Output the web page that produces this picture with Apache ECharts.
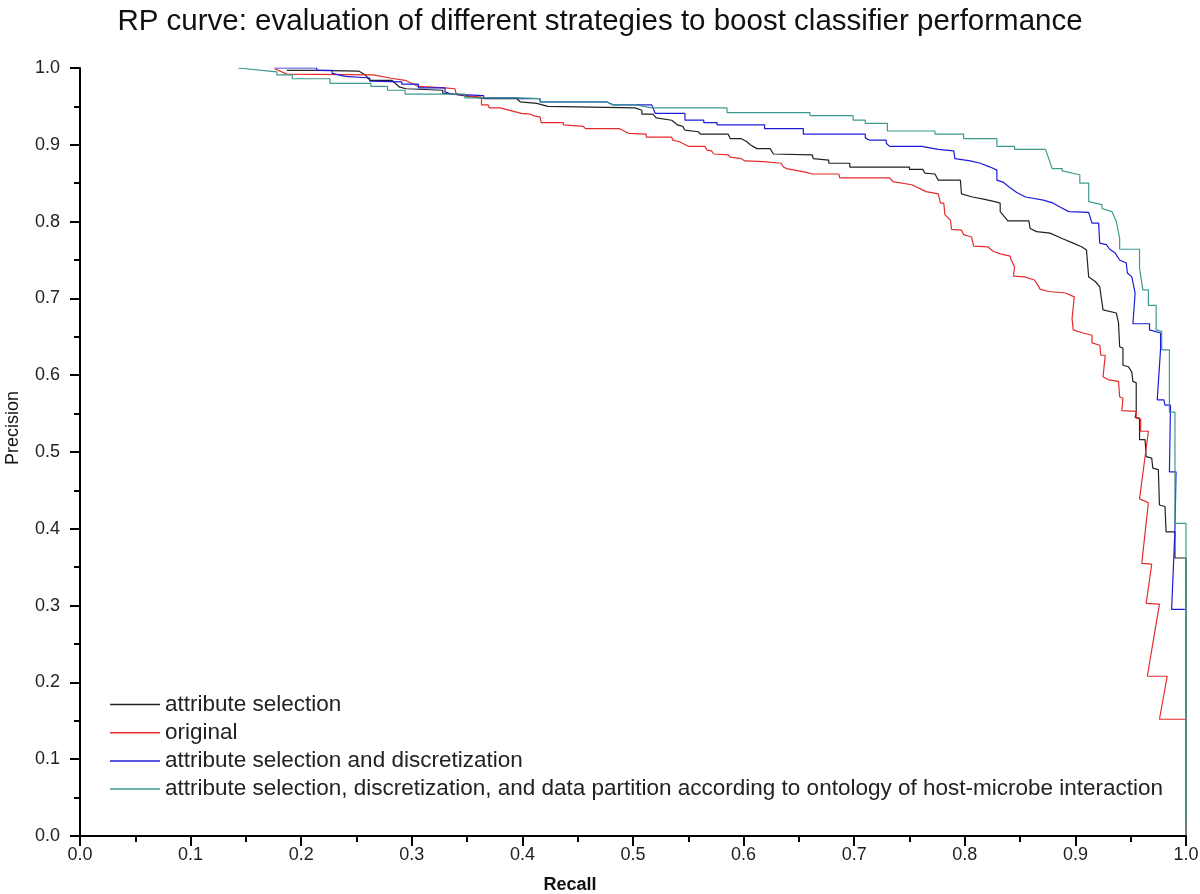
<!DOCTYPE html>
<html>
<head>
<meta charset="utf-8">
<script src="https://cdn.jsdelivr.net/npm/echarts@6/dist/echarts.min.js"></script>
<style>
  html, body { margin: 0; padding: 0; background: #fff; }
  #chart { width: 1200px; height: 894px; }
</style>
</head>
<body>
<div id="chart"></div>
<script>
// ---- Data (recall, precision) ----
const seriesNames = [
  'attribute selection',
  'original',
  'attribute selection and discretization',
  'attribute selection, discretization, and data partition according to ontology of host-microbe interaction'
];

const attrSelection = [
  [0.187,0.997],[0.214,0.997],[0.214,0.996],[0.252,0.996],[0.258,0.991],[0.262,0.984],[0.282,0.984],[0.289,0.975],
  [0.295,0.973],[0.328,0.971],[0.328,0.967],[0.333,0.967],[0.366,0.960],[0.395,0.960],[0.398,0.956],[0.413,0.954],
  [0.423,0.950],[0.423,0.948],[0.502,0.948],[0.508,0.945],[0.508,0.940],[0.518,0.940],[0.521,0.935],[0.535,0.932],
  [0.540,0.926],[0.545,0.924],[0.547,0.919],[0.559,0.917],[0.561,0.914],[0.586,0.914],[0.588,0.908],[0.598,0.908],
  [0.603,0.904],[0.606,0.900],[0.612,0.895],[0.624,0.895],[0.627,0.888],[0.662,0.887],[0.663,0.882],[0.677,0.880],
  [0.677,0.876],[0.696,0.876],[0.696,0.871],[0.750,0.871],[0.750,0.868],[0.762,0.868],[0.764,0.863],[0.773,0.862],
  [0.776,0.854],[0.796,0.854],[0.797,0.836],[0.807,0.832],[0.818,0.829],[0.827,0.826],[0.832,0.824],[0.832,0.813],
  [0.839,0.801],[0.858,0.801],[0.859,0.791],[0.865,0.787],[0.877,0.785],[0.888,0.778],[0.898,0.772],[0.906,0.767],
  [0.910,0.763],[0.912,0.728],[0.918,0.722],[0.922,0.715],[0.925,0.685],[0.937,0.681],[0.939,0.668],[0.940,0.637],
  [0.943,0.635],[0.943,0.613],[0.948,0.611],[0.951,0.604],[0.952,0.592],[0.955,0.590],[0.955,0.552],[0.954,0.545],
  [0.958,0.544],[0.958,0.516],[0.963,0.516],[0.964,0.494],[0.969,0.492],[0.970,0.479],[0.975,0.477],[0.976,0.431],
  [0.981,0.429],[0.982,0.396],[0.990,0.396],[0.990,0.362],[1.0,0.362],[1.0,0.0]
];

const original = [
  [0.176,0.999],[0.187,0.992],[0.265,0.991],[0.280,0.987],[0.294,0.984],[0.306,0.976],[0.330,0.974],[0.339,0.973],
  [0.340,0.967],[0.348,0.964],[0.363,0.962],[0.363,0.952],[0.369,0.952],[0.370,0.948],[0.380,0.948],[0.399,0.941],
  [0.407,0.940],[0.410,0.938],[0.416,0.936],[0.417,0.929],[0.437,0.929],[0.437,0.926],[0.455,0.924],[0.457,0.921],
  [0.488,0.921],[0.496,0.915],[0.512,0.914],[0.512,0.910],[0.535,0.910],[0.536,0.906],[0.542,0.904],[0.550,0.898],
  [0.565,0.898],[0.567,0.893],[0.571,0.892],[0.573,0.888],[0.586,0.887],[0.588,0.884],[0.598,0.882],[0.601,0.879],
  [0.618,0.878],[0.618,0.876],[0.634,0.876],[0.636,0.871],[0.639,0.869],[0.657,0.864],[0.662,0.862],[0.686,0.862],
  [0.687,0.857],[0.732,0.857],[0.735,0.852],[0.752,0.848],[0.765,0.839],[0.776,0.836],[0.778,0.824],[0.781,0.824],
  [0.782,0.809],[0.787,0.802],[0.788,0.790],[0.797,0.789],[0.799,0.783],[0.806,0.780],[0.808,0.768],[0.821,0.767],
  [0.826,0.761],[0.832,0.758],[0.841,0.755],[0.842,0.750],[0.845,0.741],[0.844,0.729],[0.854,0.728],[0.863,0.724],
  [0.867,0.715],[0.868,0.712],[0.876,0.709],[0.891,0.707],[0.899,0.702],[0.897,0.674],[0.898,0.659],[0.907,0.655],
  [0.915,0.652],[0.915,0.642],[0.922,0.639],[0.923,0.626],[0.927,0.626],[0.925,0.598],[0.930,0.594],[0.939,0.592],
  [0.940,0.572],[0.943,0.570],[0.942,0.554],[0.955,0.553],[0.955,0.544],[0.959,0.543],[0.959,0.527],[0.966,0.527],
  [0.965,0.516],[0.958,0.439],[0.966,0.434],[0.960,0.355],[0.969,0.354],[0.964,0.303],[0.976,0.302],[0.965,0.208],
  [0.983,0.208],[0.976,0.152],[1.0,0.152]
];

const attrSelDiscretization = [
  [0.176,1.0],[0.214,1.0],[0.214,0.997],[0.228,0.997],[0.228,0.993],[0.240,0.989],[0.262,0.987],[0.262,0.983],
  [0.291,0.982],[0.291,0.979],[0.306,0.979],[0.306,0.974],[0.330,0.974],[0.330,0.969],[0.335,0.966],[0.365,0.964],
  [0.365,0.961],[0.395,0.961],[0.398,0.960],[0.416,0.960],[0.416,0.956],[0.476,0.956],[0.482,0.952],[0.517,0.952],
  [0.520,0.941],[0.547,0.941],[0.547,0.932],[0.564,0.932],[0.564,0.929],[0.576,0.929],[0.576,0.926],[0.619,0.926],
  [0.619,0.921],[0.654,0.921],[0.654,0.914],[0.710,0.914],[0.710,0.909],[0.714,0.906],[0.729,0.906],[0.729,0.902],
  [0.732,0.898],[0.761,0.898],[0.776,0.894],[0.790,0.892],[0.791,0.882],[0.805,0.879],[0.814,0.876],[0.823,0.871],
  [0.829,0.867],[0.829,0.854],[0.835,0.851],[0.841,0.844],[0.847,0.838],[0.855,0.832],[0.871,0.828],[0.880,0.824],
  [0.886,0.819],[0.894,0.813],[0.912,0.812],[0.915,0.798],[0.921,0.798],[0.922,0.772],[0.928,0.770],[0.931,0.764],
  [0.936,0.759],[0.940,0.750],[0.946,0.746],[0.947,0.733],[0.951,0.728],[0.954,0.707],[0.952,0.667],[0.967,0.667],
  [0.967,0.659],[0.977,0.655],[0.977,0.634],[0.974,0.568],[0.980,0.568],[0.981,0.561],[0.986,0.561],[0.985,0.474],
  [0.991,0.474],[0.990,0.398],[0.987,0.295],[0.999,0.295]
];

const attrSelDiscPartition = [
  [0.143,1.0],[0.178,0.995],[0.178,0.991],[0.192,0.991],[0.192,0.986],[0.226,0.986],[0.226,0.980],[0.263,0.980],
  [0.263,0.976],[0.278,0.976],[0.278,0.971],[0.294,0.971],[0.294,0.966],[0.348,0.966],[0.348,0.961],[0.398,0.961],
  [0.416,0.960],[0.416,0.956],[0.476,0.956],[0.482,0.952],[0.502,0.952],[0.517,0.948],[0.585,0.948],[0.585,0.942],
  [0.660,0.942],[0.660,0.938],[0.699,0.938],[0.699,0.932],[0.710,0.932],[0.710,0.928],[0.730,0.928],[0.730,0.918],
  [0.773,0.918],[0.773,0.914],[0.799,0.914],[0.799,0.908],[0.829,0.908],[0.829,0.898],[0.845,0.898],[0.845,0.894],
  [0.873,0.894],[0.879,0.869],[0.888,0.869],[0.888,0.866],[0.904,0.861],[0.904,0.850],[0.912,0.850],[0.912,0.826],
  [0.924,0.822],[0.924,0.817],[0.933,0.813],[0.937,0.800],[0.940,0.778],[0.940,0.764],[0.958,0.764],[0.958,0.739],
  [0.961,0.711],[0.966,0.711],[0.966,0.691],[0.973,0.691],[0.973,0.659],[0.978,0.657],[0.978,0.633],[0.985,0.633],
  [0.985,0.552],[0.990,0.552],[0.990,0.407],[1.0,0.407],[1.0,0.017]
];

const seriesData = [attrSelection, original, attrSelDiscretization, attrSelDiscPartition];
const seriesColors = ['#222222', '#e52b2b', '#1c1cd8', '#3d9a8e'];

const FONT = '"Liberation Sans", Arial, sans-serif';

const chart = echarts.init(document.getElementById('chart'), null, { renderer: 'canvas' });

const axisCommon = {
  type: 'value',
  min: 0,
  max: 1,
  interval: 0.1,
  axisLine: { show: true, onZero: false, lineStyle: { color: '#000', width: 2 } },
  axisTick: { show: true, inside: false, length: 10, lineStyle: { color: '#000', width: 2 } },
  minorTick: { show: true, splitNumber: 2, length: 6, lineStyle: { color: '#000', width: 2 } },
  splitLine: { show: false },
  minorSplitLine: { show: false },
  axisLabel: {
    fontFamily: FONT, fontSize: 18, color: '#222',
    formatter: v => v.toFixed(1)
  }
};

chart.setOption({
  animation: false,
  backgroundColor: '#fff',
  title: {
    text: 'RP curve: evaluation of different strategies to boost classifier performance',
    left: 'center',
    top: 2,
    textStyle: { fontFamily: FONT, fontSize: 29.5, fontWeight: 'normal', color: '#111' }
  },
  grid: { left: 80, right: 14, top: 68, bottom: 58, containLabel: false, outerBoundsMode: 'none' },
  legend: {
    orient: 'vertical',
    left: 110,
    top: 693,
    padding: 0,
    icon: 'rect',
    itemWidth: 50,
    itemHeight: 1.5,
    itemGap: 5.2,
    textStyle: { fontFamily: FONT, fontSize: 22.5, color: '#222', lineHeight: 22 },
    data: seriesNames
  },
  xAxis: Object.assign({}, axisCommon, {
    name: 'Recall',
    nameLocation: 'middle',
    nameGap: 40,
    nameTextStyle: { fontFamily: FONT, fontSize: 18, fontWeight: 'bold', color: '#111', padding: [0, 126, 0, 0] },
    axisLabel: Object.assign({}, axisCommon.axisLabel, { margin: 10 })
  }),
  yAxis: Object.assign({}, axisCommon, {
    name: 'Precision',
    nameLocation: 'middle',
    nameGap: 58,
    nameTextStyle: { fontFamily: FONT, fontSize: 18, color: '#111', padding: [0, 0, 0, 48] },
    axisLabel: Object.assign({}, axisCommon.axisLabel, { margin: 20 })
  }),
  series: seriesData.map((d, i) => ({
    name: seriesNames[i],
    type: 'line',
    data: d,
    symbol: 'none',
    smooth: false,
    clip: true,
    lineStyle: { color: seriesColors[i], width: 1.2 },
    itemStyle: { color: seriesColors[i] },
    z: 2 + i
  }))
});
</script>
</body>
</html>
